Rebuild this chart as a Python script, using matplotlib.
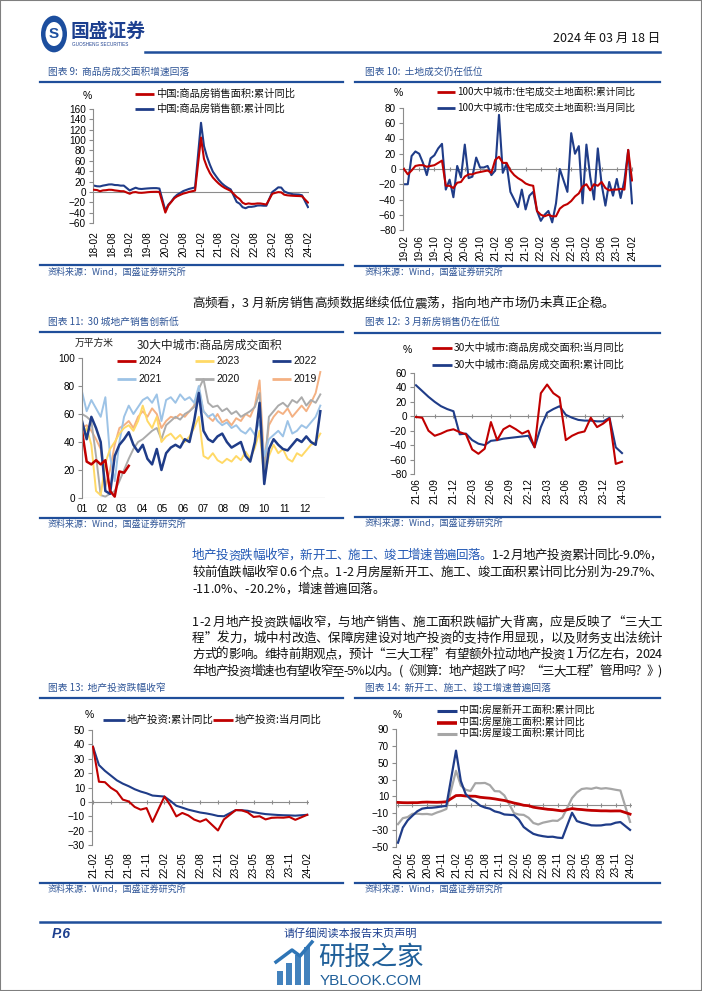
import numpy as np
import pandas as pd
import matplotlib
matplotlib.use('Agg')
import matplotlib.pyplot as plt
from matplotlib.lines import Line2D
from matplotlib.patches import Rectangle, Circle
from matplotlib.font_manager import FontProperties

# ======================= DATA =======================
# Chart 9: cumulative yoy (%), Feb..Dec each year (January not published)
c9_months = [f'{y}-{m:02d}' for y in range(18, 24) for m in range(2, 13)] + ['24-02']
c9_area = [4.1, 3.6, 1.3, 2.9, 3.3, 4.2, 4.0, 2.9, 2.2, 1.4, 1.3,
           -3.6, -0.9, -0.3, -1.6, -1.8, -1.3, -0.6, -0.1, 0.1, 0.2, -0.1,
           -39.9, -26.3, -19.3, -12.3, -8.4, -5.8, -3.3, -1.8, 0.0, 1.3, 2.6,
           104.9, 63.8, 48.1, 36.3, 27.7, 21.5, 15.9, 11.3, 7.6, 4.8, 1.9,
           -9.6, -13.8, -20.9, -23.6, -22.2, -23.1, -23.0, -22.2, -22.3, -23.3, -24.3,
           -3.6, -1.8, -0.4, -0.9, -5.3, -6.5, -7.1, -7.5, -7.8, -8.0, -8.5,
           -20.5]
c9_value = [12.1, 10.9, 10.6, 12.2, 13.2, 14.4, 14.5, 13.3, 13.1, 12.1, 12.2,
            2.8, 5.6, 8.1, 6.1, 5.6, 6.2, 6.7, 7.1, 7.3, 7.3, 6.5,
            -35.9, -24.7, -18.6, -10.6, -5.4, -2.1, 1.6, 3.7, 5.8, 7.2, 8.7,
            133.4, 88.5, 68.2, 52.4, 38.9, 30.7, 22.9, 16.6, 11.8, 8.0, 4.8,
            -19.3, -22.7, -29.5, -31.5, -28.9, -28.8, -27.9, -26.3, -26.1, -26.6, -26.7,
            -0.1, 4.1, 8.8, 8.4, 1.1, -1.5, -3.2, -4.6, -4.9, -5.2, -6.5,
            -29.3]
c9_ticks = ['18-02', '18-08', '19-02', '19-08', '20-02', '20-08', '21-02',
            '21-08', '22-02', '22-08', '23-02', '23-08', '24-02']

# Chart 10: 100 cities residential land area (%), monthly 2019-02..2024-02
c10_months = [p.strftime('%y-%m') for p in pd.period_range('2019-02', '2024-02', freq='M')]
c10_cum = [0, -7, -2, 4, 5, 5, 3, 4, 5, 8, 11,
           -22, -22, -25, -18, -17, -10, -7, -7, -5, -4, -3, -2,
           -5, 12, 16, 8, 8, -2, -8, -12, -15, -19, -21, -22,
           -55, -60, -62, -60, -62, -62, -52, -48, -46, -42, -36, -32,
           -23, -20, -28, -20, -22, -17, -25, -28, -27, -27, -26, -27,
           25, -15]
c10_mon = [-20, -20, 17, 23, 20, 8, -8, 14, 18, 27, 33,
           -27, -14, -37, 4, -11, 32, -12, -10, 15, 2, 2, 4,
           -8, -2, 71, -5, 7, -30, -40, -50, -27, -53, -35, -30,
           -55, -68, -60, -55, -70, -45, 0, -15, -30, 47, 20, 30,
           -45, 32, -10, -40, 27, -20, -48, -17, -35, -13, -38, -15,
           25, -45]
c10_ticks = ['19-02', '19-06', '19-10', '20-02', '20-06', '20-10', '21-02', '21-06',
             '21-10', '22-02', '22-06', '22-10', '23-02', '23-06', '23-10', '24-02']

# Chart 11: 30 cities weekly transaction area (10k sqm) by day of year
c11_doy = list(range(1, 359, 7))
c11_2019 = [50, 52, 48, 42, 35, 8, 20, 38, 50, 52, 55, 50, 58, 62, 58, 64, 60, 50, 55, 58,
            57, 60, 58, 62, 66, 78, 62, 58, 55, 60, 54, 56, 52, 57, 55, 60, 58, 66, 84, 25,
            52, 58, 62, 60, 64, 58, 62, 66, 62, 68, 75, 90]
c11_2020 = [60, 58, 55, 30, 2, 1, 3, 5, 12, 20, 28, 35, 40, 42, 45, 48, 50, 42, 52, 55,
            58, 56, 60, 62, 65, 78, 85, 68, 65, 66, 62, 64, 60, 62, 58, 60, 62, 65, 75, 18,
            58, 62, 66, 68, 65, 70, 68, 72, 66, 70, 68, 74]
c11_2021 = [76, 62, 70, 64, 58, 72, 30, 12, 40, 58, 66, 60, 65, 70, 72, 68, 74, 55, 70, 72,
            68, 74, 70, 72, 68, 80, 62, 58, 60, 55, 52, 54, 50, 52, 48, 46, 50, 45, 55, 30,
            42, 45, 48, 44, 55, 46, 48, 52, 50, 54, 58, 66]
c11_2022 = [55, 42, 58, 50, 40, 5, 3, 30, 38, 42, 47, 38, 33, 38, 28, 24, 35, 20, 32, 36,
            38, 36, 42, 40, 55, 75, 48, 42, 40, 44, 46, 40, 36, 38, 40, 30, 26, 40, 68, 10,
            35, 42, 38, 35, 34, 38, 42, 40, 44, 40, 38, 62]
c11_2023 = [42, 50, 38, 5, 2, 25, 35, 40, 46, 50, 52, 48, 55, 66, 55, 50, 58, 40, 44, 46,
            42, 45, 40, 44, 50, 58, 30, 28, 32, 27, 25, 28, 26, 30, 27, 33, 28, 36, 48, 14,
            30, 38, 32, 35, 28, 26, 32, 30, 34, 38, 40, 46]
c11_2024 = [48, 26, 24, 27, 24, 27, 5, 1, 19, 18, 23]
c11_years = ['2024', '2023', '2022', '2021', '2020', '2019']
c11_month_labels = ['01', '02', '03', '04', '05', '06', '07', '08', '09', '10', '11', '12']
c11_month_doy = [1, 32, 60, 91, 121, 152, 182, 213, 244, 274, 305, 335]

# Chart 12: 30 cities transaction area yoy (%), monthly 2021-06..2024-03
c12_months = [p.strftime('%y-%m') for p in pd.period_range('2021-06', '2024-03', freq='M')]
c12_mon = [-1, -2, -20, -27, -24, -20, -18, -22, -25, -46, -52, -45, -8, -33, -18, -13,
           -18, -24, -20, -43, 32, 44, 32, 26, -33, -27, -23, -21, -2, -15, -10, -3, -66, -63]
c12_cum = [43, 35, 27, 20, 14, 10, 7, -25, -24, -33, -38, -40, -34, -33, -31, -30,
           -29, -28, -27, -43, -15, 5, 10, 14, 2, -2, -5, -6, -6, -7, -7, -2, -43, -51]
c12_ticks = ['21-06', '21-09', '21-12', '22-03', '22-06', '22-09', '22-12',
             '23-03', '23-06', '23-09', '23-12', '24-03']

# Chart 13: real-estate investment yoy (%), Feb..Dec 2021-2023 + 2024-02
c13_months = [f'{y}-{m:02d}' for y in range(21, 24) for m in range(2, 13)] + ['24-02']
c13_cum = [38.3, 25.6, 21.6, 18.3, 15.0, 12.7, 10.9, 8.8, 7.2, 6.0, 4.4,
           3.7, 0.7, -2.7, -4.0, -5.4, -6.4, -7.4, -8.0, -8.8, -9.8, -10.0,
           -5.7, -5.8, -6.2, -7.2, -7.9, -8.5, -8.8, -9.1, -9.3, -9.4, -9.6,
           -9.0]
c13_mon = [38.3, 14.0, 13.7, 9.8, 7.2, 1.6, 0.3, -3.5, -5.4, -4.3, -13.9,
           3.7, -2.4, -10.1, -7.7, -9.4, -12.3, -13.8, -12.1, -16.0, -19.9, -12.2,
           -5.7, -5.9, -7.3, -10.5, -10.0, -12.2, -11.1, -10.9, -11.0, -10.5, -12.5,
           -9.0]
c13_ticks = ['21-02', '21-05', '21-08', '21-11', '22-02', '22-05', '22-08',
             '22-11', '23-02', '23-05', '23-08', '23-11', '24-02']

# Chart 14: new starts / under construction / completions cumulative yoy (%)
c14_months = [f'{y}-{m:02d}' for y in range(20, 24) for m in range(2, 13)] + ['24-02']
c14_new = [-44.9, -27.2, -18.4, -12.8, -7.6, -4.5, -3.6, -3.4, -2.8, -1.9, -1.2,
           64.3, 28.2, 12.8, 6.9, 3.8, -0.9, -3.2, -4.5, -7.7, -9.1, -11.4,
           -12.2, -17.5, -26.3, -30.6, -34.4, -36.1, -37.2, -38.0, -37.8, -38.9, -39.4,
           -9.4, -19.2, -21.2, -22.6, -24.3, -24.5, -24.4, -23.4, -23.2, -21.2, -20.4,
           -29.7]
c14_const = [2.9, 2.6, 2.5, 2.6, 2.6, 3.1, 3.3, 3.1, 3.0, 3.2, 3.7,
             11.0, 11.2, 10.5, 10.3, 10.2, 9.0, 8.4, 7.9, 7.1, 6.1, 5.2,
             2.2, 1.0, -0.5, -1.0, -2.8, -3.7, -4.5, -5.3, -5.7, -6.5, -7.2,
             -4.4, -5.2, -5.6, -6.2, -6.6, -6.8, -7.1, -7.1, -7.3, -7.2, -7.2,
             -11.0]
c14_done = [-22.9, -15.8, -14.5, -10.6, -10.5, -11.0, -10.8, -11.6, -9.2, -7.3, -4.9,
            40.4, 22.9, 17.9, 16.4, 25.7, 25.7, 26.0, 23.4, 16.3, 16.0, 11.2,
            -9.8, -11.5, -11.9, -15.3, -21.5, -23.3, -21.1, -19.9, -18.7, -19.0, -15.0,
            8.0, 14.7, 18.8, 19.6, 19.0, 20.5, 19.2, 19.8, 19.0, 17.9, 17.0,
            -20.2]
c14_ticks = ['20-02', '20-05', '20-08', '20-11', '21-02', '21-05', '21-08', '21-11', '22-02',
             '22-05', '22-08', '22-11', '23-02', '23-05', '23-08', '23-11', '24-02']

# ======================= STYLE =======================
W, H = 702, 991
CJK = ['Noto Sans CJK SC', 'DejaVu Sans']
LAT = ['Liberation Sans', 'DejaVu Sans']
plt.rcParams['font.family'] = CJK
RED = '#C00000'
BLUE = '#1F3C88'
GRAY = '#8c8c8c'
TBLUE = '#2F5597'
LBLUE = '#1F4E9A'

fig = plt.figure(figsize=(W / 100, H / 100), dpi=100)
fig.patch.set_facecolor('white')


def fx(x):
    return x / W


def fy(y):
    return 1 - y / H


def hline(x0, x1, y, color=LBLUE, lw=1.6):
    fig.add_artist(Line2D([fx(x0), fx(x1)], [fy(y), fy(y)], color=color, lw=lw,
                          transform=fig.transFigure))


def ftext(x, y, s, **kw):
    return fig.text(fx(x), fy(y), s, **kw)


def idx(label, start):
    y, m = int(label[:2]), int(label[3:])
    y0, m0 = int(start[:2]), int(start[3:])
    return (y - y0) * 12 + (m - m0)


def make_ax(x0, x1, ytop, ybot, ylim, yticks, xlim, xpad):
    ax = fig.add_axes([fx(x0), fy(ybot), (x1 - x0) / W, (ybot - ytop) / H])
    ax.patch.set_visible(False)
    for s in ('top', 'right', 'bottom'):
        ax.spines[s].set_visible(False)
    ax.spines['left'].set_color(GRAY)
    ax.spines['left'].set_linewidth(0.8)
    ax.set_ylim(ylim)
    ax.set_xlim(xlim)
    ax.set_yticks(yticks)
    ax.tick_params(axis='y', direction='out', length=3, width=0.8, color=GRAY,
                   labelsize=7.2, pad=2, labelfontfamily='Liberation Sans')
    ax.tick_params(axis='x', length=0, labelsize=7.2, pad=xpad,
                   labelfontfamily='Liberation Sans')
    ax.axhline(0, color=GRAY, lw=0.8, zorder=1)
    return ax


def zero_ticks(ax, positions):
    # small category tick marks on the zero axis line
    ax.plot(positions, [0] * len(positions), ls='none', marker='|', ms=3.5,
            mew=0.8, color=GRAY, zorder=1)


def legend_entry(x0, x1, y, color, label, lw=2.0, fs=7.4, family=CJK):
    fig.add_artist(Line2D([fx(x0), fx(x1)], [fy(y), fy(y)], color=color, lw=lw,
                          transform=fig.transFigure, solid_capstyle='butt'))
    ftext(x1 + 2, y, label, fontsize=fs, family=family, ha='left', va='center', color='#111111')


def frame(left, title, ytitle, yline, ybot, ysrc):
    if left:
        x0, x1, xt = 40, 343, 48
    else:
        x0, x1, xt = 355, 660, 365
    ftext(xt, ytitle, title, fontsize=7, color=TBLUE, ha='left', va='center', style='italic')
    hline(x0, x1, yline)
    hline(x0, x1, ybot)
    ftext(xt, ysrc, '资料来源：Wind，国盛证券研究所', fontsize=6.5, color=TBLUE,
          ha='left', va='center', style='italic')


# ======================= PAGE =======================
fig.add_artist(Rectangle((0, 0), 1, 1, transform=fig.transFigure, fill=False,
                         ec='#7f7f7f', lw=1.5))
# header
fig.add_artist(Circle((fx(54), fy(34)), 13 / W, transform=fig.transFigure,
                      fc='#1C4E9E', ec='none'))
fig.add_artist(Circle((fx(54), fy(34)), 8.5 / W, transform=fig.transFigure,
                      fc='white', ec='none'))
ftext(54, 34, 'S', fontsize=11, fontweight='bold', color='#1C4E9E', ha='center', va='center',
      family=LAT)
ftext(71, 31, '国盛证券', fontsize=13.5, fontweight='bold', color='#1C3F8F', ha='left', va='center')
ftext(72, 45, 'GUOSHENG SECURITIES', fontsize=3.3, color='#1C3F8F', ha='left', va='center',
      family=LAT)
ftext(660, 38, '2024 年 03 月 18 日', fontsize=9, color='#111111', ha='right', va='center')
hline(145, 660, 52, lw=1.8)

# ----- chart 9 -----
frame(True, '图表 9:  商品房成交面积增速回落', 72, 82, 265, 272)
x9 = [idx(m, '18-02') for m in c9_months]
ax9 = make_ax(93, 309, 109, 223, (-60, 160), range(-60, 161, 20), (-0.35, 72.35), 6)
ax9.plot(x9, c9_area, color=RED, lw=1.5, zorder=3)
ax9.plot(x9, c9_value, color=BLUE, lw=1.5, zorder=2)
t9 = [idx(t, '18-02') for t in c9_ticks]
ax9.set_xticks(t9, c9_ticks, rotation=90)
ftext(87, 96, '%', fontsize=7.5, family=LAT, ha='center', va='center')
legend_entry(135, 154, 94, RED, '中国:商品房销售面积:累计同比')
legend_entry(135, 154, 109, BLUE, '中国:商品房销售额:累计同比')

# ----- chart 10 -----
frame(False, '图表 10:  土地成交仍在低位', 72, 82, 266, 272)
x10 = list(range(len(c10_months)))
ax10 = make_ax(403, 633, 108, 230, (-80, 80), range(-80, 81, 20), (-0.26, 60.26), 3.5)
ax10.plot(x10, c10_cum, color=RED, lw=1.5, zorder=3)
ax10.plot(x10, c10_mon, color=BLUE, lw=1.5, zorder=2)
t10 = [c10_months.index(t) for t in c10_ticks]
ax10.set_xticks(t10, c10_ticks, rotation=90)
zero_ticks(ax10, t10)
ftext(398, 93, '%', fontsize=7.5, family=LAT, ha='center', va='center')
legend_entry(437, 455, 92, RED, '100大中城市:住宅成交土地面积:累计同比', fs=7)
legend_entry(437, 455, 108, BLUE, '100大中城市:住宅成交土地面积:当月同比', fs=7)

# body line
body_fp = FontProperties(family=CJK, size=9)
renderer = fig.canvas.get_renderer()


def adv(ch, fp):
    a = renderer.get_text_width_height_descent('中' + ch + '中', fp, ismath=False)[0]
    b = renderer.get_text_width_height_descent('中中', fp, ismath=False)[0]
    return a - b


def body_line(segments, y, x0=192, x1=662, justify=True, fp=body_fp):
    chars = [(ch, col) for txt, col in segments for ch in txt]
    widths = [adv(ch, fp) for ch, _ in chars]
    total = sum(widths)
    gap = (x1 - x0 - total) / (len(chars) - 1) if justify else 0
    x = x0
    for (ch, col), w in zip(chars, widths):
        if ch != ' ':
            fig.text(fx(x), fy(y), ch, fontproperties=fp, color=col, ha='left', va='baseline')
        x += w + gap


K = '#111111'
BT = '#2359B5'
body_line([('高频看，3 月新房销售高频数据继续低位震荡，指向地产市场仍未真正企稳。', K)], 307,
          justify=False)

# ----- chart 11 -----
frame(True, '图表 11:  30 城地产销售创新低', 322, 332, 518, 524)
ax11 = make_ax(82, 325, 358, 498, (0, 100), range(0, 101, 20), (1, 365), 4)
series11 = {'2019': (c11_2019, '#F4B183', 1.4), '2020': (c11_2020, '#ABABAB', 1.4),
            '2021': (c11_2021, '#9DC3E6', 1.4), '2023': (c11_2023, '#FFD966', 1.4),
            '2022': (c11_2022, BLUE, 1.8)}
for yr, (vals, col, lw) in series11.items():
    ax11.plot(c11_doy[:len(vals)], vals, color=col, lw=lw)
ax11.plot(c11_doy[:len(c11_2024)], c11_2024, color=RED, lw=1.8)
ax11.set_xticks(c11_month_doy, c11_month_labels)
ftext(75, 343, '万平方米', fontsize=7, ha='left', va='center', color='#222222')
ftext(209, 345, '30大中城市:商品房成交面积', fontsize=8.5, ha='center', va='center', color='#222222')
leg11 = {'2024': RED, '2023': '#FFD966', '2022': BLUE, '2021': '#9DC3E6', '2020': '#ABABAB',
         '2019': '#F4B183'}
pos11 = [(117, 361), (195, 361), (272, 361), (117, 379), (195, 379), (272, 379)]
for (yr, col), (lx, ly) in zip(leg11.items(), pos11):
    legend_entry(lx, lx + 19, ly, col, yr, lw=2.0, fs=7.5, family=LAT)

# ----- chart 12 -----
frame(False, '图表 12:  3 月新房销售仍在低位', 322, 333, 517, 523)
x12 = list(range(len(c12_months)))
ax12 = make_ax(414, 624, 373, 474, (-80, 60), range(-80, 61, 20), (-0.32, 33.32), 3)
ax12.plot(x12, c12_mon, color=RED, lw=1.5, zorder=3)
ax12.plot(x12, c12_cum, color=BLUE, lw=1.5, zorder=2)
t12 = [c12_months.index(t) for t in c12_ticks]
ax12.set_xticks(t12, c12_ticks, rotation=90)
zero_ticks(ax12, t12)
ftext(407, 350, '%', fontsize=7.5, family=LAT, ha='center', va='center')
legend_entry(432, 452, 348, RED, '30大中城市:商品房成交面积:当月同比')
legend_entry(432, 452, 365, BLUE, '30大中城市:商品房成交面积:累计同比')

# ----- paragraph -----
body_line([('地产投资跌幅收窄，新开工、施工、竣工增速普遍回落。', BT),
           ('1-2 月地产投资累计同比-9.0%，', K)], 559)
body_line([('较前值跌幅收窄 0.6 个点。1-2 月房屋新开工、施工、竣工面积累计同比分别为-29.7%、', K)], 576)
body_line([('-11.0%、-20.2%，增速普遍回落。', K)], 593, justify=False)
body_line([('1-2 月地产投资跌幅收窄，与地产销售、施工面积跌幅扩大背离，应是反映了“三大工', K)], 626)
body_line([('程”发力，城中村改造、保障房建设对地产投资的支持作用显现，以及财务支出法统计', K)], 642)
body_line([('方式的影响。维持前期观点，预计“三大工程”有望额外拉动地产投资 1 万亿左右，2024', K)], 658)
body_line([('年地产投资增速也有望收窄至-5%以内。(《测算：地产超跌了吗？“三大工程”管用吗？》)', K)], 675)

# ----- chart 13 -----
frame(True, '图表 13:  地产投资跌幅收窄', 688, 698, 883, 889)
x13 = [idx(m, '21-02') for m in c13_months]
ax13 = make_ax(92, 309, 730, 845, (-30, 50), range(-30, 51, 10), (-0.17, 36.3), 5)
ax13.plot(x13, c13_cum, color=BLUE, lw=1.5, zorder=2)
ax13.plot(x13, c13_mon, color=RED, lw=1.5, zorder=3)
t13 = [idx(t, '21-02') for t in c13_ticks]
ax13.set_xticks(t13, c13_ticks, rotation=90)
zero_ticks(ax13, t13)
ftext(89, 715, '%', fontsize=7.5, family=LAT, ha='center', va='center')
legend_entry(103, 125, 720, BLUE, '地产投资:累计同比', fs=7.6)
legend_entry(213, 233, 720, RED, '地产投资:当月同比', fs=7.6)

# ----- chart 14 -----
frame(False, '图表 14:  新开工、施工、竣工增速普遍回落', 688, 698, 883, 889)
x14 = [idx(m, '20-02') for m in c14_months]
ax14 = make_ax(396, 632, 729, 847, (-50, 90), range(-50, 91, 20), (-0.41, 48.4), 3.5)
ax14.plot(x14, c14_done, color='#A6A6A6', lw=1.6, zorder=2)
ax14.plot(x14, c14_const, color=RED, lw=2.0, zorder=3)
ax14.plot(x14, c14_new, color=BLUE, lw=1.6, zorder=4)
t14 = [idx(t, '20-02') for t in c14_ticks]
ax14.set_xticks(t14, c14_ticks, rotation=90)
zero_ticks(ax14, t14)
ftext(397, 715, '%', fontsize=7.5, family=LAT, ha='center', va='center')
legend_entry(437, 457, 711, BLUE, '中国:房屋新开工面积:累计同比', fs=7.2, lw=2.2)
legend_entry(437, 457, 723, RED, '中国:房屋施工面积:累计同比', fs=7.2, lw=2.6)
legend_entry(437, 457, 734, '#A6A6A6', '中国:房屋竣工面积:累计同比', fs=7.2, lw=2.2)

# ----- footer -----
hline(40, 660, 922, lw=1.8)
ftext(52, 934, 'P.6', fontsize=10, fontweight='bold', style='italic', color='#1C3F8F',
      ha='left', va='center', family=LAT)
ftext(350, 934, '请仔细阅读本报告末页声明', fontsize=8, color='#1C3F8F', ha='center', va='center')
# watermark
WM = '#2E75B6'
for bx, bh in [(277, 14), (286, 22), (295, 30), (304, 38)]:
    fig.add_artist(Rectangle((fx(bx), fy(985)), 6 / W, bh / H, transform=fig.transFigure,
                             fc=WM, ec='none', alpha=0.9))
fig.add_artist(Line2D([fx(276), fx(292), fx(300), fx(312)], [fy(962), fy(950), fy(956), fy(942)],
                      color=WM, lw=2.5, transform=fig.transFigure))
ftext(318, 957, '研报之家', fontsize=19, color='#1F5F99', ha='left', va='center')
ftext(320, 981, 'YBLOOK.COM', fontsize=11, color='#1F5F99', ha='left', va='center', family=LAT)

fig.savefig('out.png', dpi=100, facecolor='white')
